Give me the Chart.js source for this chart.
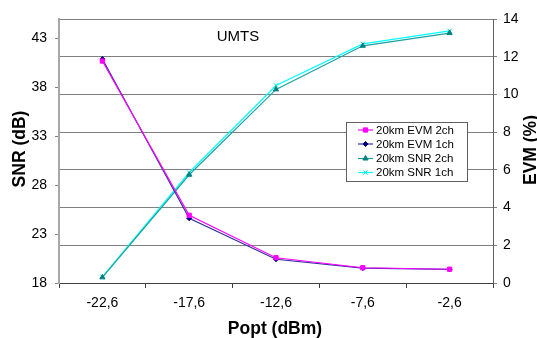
<!DOCTYPE html>
<html>
<head>
<meta charset="utf-8">
<script src="https://cdn.jsdelivr.net/npm/chart.js@4/dist/chart.umd.min.js"></script>
<style>
html,body{margin:0;padding:0;background:#fff;}
#wrap{width:537px;height:338px;}
</style>
</head>
<body>
<div id="wrap"><canvas id="c" width="537" height="338"></canvas></div>
<script>
const categories = ["-22,6", "-17,6", "-12,6", "-7,6", "-2,6"];
const evm2ch = [11.77, 3.59, 1.34, 0.81, 0.73];
const evm1ch = [11.88, 3.43, 1.26, 0.79, 0.72];
const snr2ch = [18.58, 29.07, 37.8, 42.26, 43.56];
const snr1ch = [18.62, 29.3, 38.2, 42.45, 43.78];
const snrTicks = [18, 23, 28, 33, 38, 43];
const evmTicks = [0, 2, 4, 6, 8, 10, 12, 14];
const seriesNames = ["20km EVM 2ch", "20km EVM 1ch", "20km SNR 2ch", "20km SNR 1ch"];
const chartTitle = "UMTS";
const xTitle = "Popt (dBm)";
const yTitle = "SNR (dB)";
const y1Title = "EVM (%)";

const FONT = "Arial, 'Liberation Sans', sans-serif";

const styles = [
  {color: "#FF00FF", line: "#FF00FF", point: "rect", r: 3},
  {color: "#000080", line: "#3030A0", point: "rectRot", r: 2.5},
  {color: "#008080", line: "#20A0A0", point: "triangle", r: 3},
  {color: "#00E0E0", line: "#00FFFF", point: "crossRot", r: 3}
];

const dataSets = [
  {label: seriesNames[0], data: evm2ch, yAxisID: "y1"},
  {label: seriesNames[1], data: evm1ch, yAxisID: "y1"},
  {label: seriesNames[2], data: snr2ch, yAxisID: "y"},
  {label: seriesNames[3], data: snr1ch, yAxisID: "y"}
].map((d, i) => Object.assign(d, {
  borderColor: styles[i].line,
  backgroundColor: styles[i].color,
  pointBorderColor: styles[i].color,
  pointBackgroundColor: styles[i].color,
  pointStyle: styles[i].point,
  pointRadius: styles[i].r,
  pointBorderWidth: 1,
  borderWidth: 1.2,
  tension: 0,
  fill: false
}));

const overlay = {
  id: "overlay",
  afterDraw(chart) {
    const ctx = chart.ctx;
    ctx.save();
    ctx.fillStyle = "#000";
    ctx.font = "15px " + FONT;
    ctx.textAlign = "center";
    ctx.textBaseline = "alphabetic";
    ctx.fillText(chartTitle, 238, 41);
    ctx.font = "bold 17.5px " + FONT;
    ctx.fillText(xTitle, 275, 334);
    ctx.save();
    ctx.translate(25, 149);
    ctx.rotate(-Math.PI / 2);
    ctx.fillText(yTitle, 0, 0);
    ctx.restore();
    ctx.save();
    ctx.translate(536, 150);
    ctx.rotate(-Math.PI / 2);
    ctx.fillText(y1Title, 0, 0);
    ctx.restore();
    const bx = 346, by = 122, bw = 121, bh = 59;
    ctx.fillStyle = "#fff";
    ctx.fillRect(bx, by, bw, bh);
    ctx.strokeStyle = "#606060";
    ctx.lineWidth = 1;
    ctx.strokeRect(bx + 0.5, by + 0.5, bw, bh);
    const rows = [130, 144, 158.5, 172.5];
    ctx.font = "11.5px " + FONT;
    ctx.textAlign = "left";
    ctx.textBaseline = "middle";
    rows.forEach((ry, i) => {
      ctx.strokeStyle = styles[i].line;
      ctx.lineWidth = 1.2;
      ctx.beginPath();
      ctx.moveTo(358, ry);
      ctx.lineTo(373, ry);
      ctx.stroke();
      ctx.fillStyle = styles[i].color;
      ctx.strokeStyle = styles[i].color;
      ctx.lineWidth = 1;
      Chart.helpers.drawPoint(ctx, {pointStyle: styles[i].point, radius: styles[i].r, rotation: 0, borderWidth: 1}, 365.5, ry);
      ctx.fillStyle = "#000";
      ctx.fillText(seriesNames[i], 376, ry + 0.5);
    });
    ctx.restore();
  }
};

new Chart(document.getElementById("c"), {
  type: "line",
  data: {labels: categories, datasets: dataSets},
  plugins: [overlay],
  options: {
    responsive: false,
    animation: false,
    devicePixelRatio: 1,
    layout: {padding: {top: 19, left: 0, right: 0, bottom: 0}},
    plugins: {legend: {display: false}, title: {display: false}, tooltip: {enabled: false}},
    scales: {
      x: {
        type: "category",
        offset: true,
        afterFit(s) { s.height = 55; },
        grid: {offset: true, drawOnChartArea: false, drawTicks: true, tickLength: 5, color: "#404040"},
        border: {color: "#404040", width: 1},
        ticks: {color: "#000", font: {family: FONT, size: 14}, padding: 7, maxRotation: 0}
      },
      y: {
        position: "left",
        min: 18, max: 45,
        afterFit(s) { s.width = 59; },
        afterBuildTicks(s) { s.ticks = snrTicks.map(v => ({value: v})); },
        grid: {drawOnChartArea: false, drawTicks: true, tickLength: 4, color: "#808080"},
        border: {color: "#a8a8a8", width: 2},
        ticks: {color: "#000", font: {family: FONT, size: 14}, padding: 8}
      },
      y1: {
        position: "right",
        min: 0, max: 14,
        afterFit(s) { s.width = 44; },
        afterBuildTicks(s) { s.ticks = evmTicks.map(v => ({value: v})); },
        grid: {drawOnChartArea: true, drawTicks: true, tickLength: 4, color: "#808080"},
        border: {color: "#606060", width: 1},
        ticks: {color: "#000", font: {family: FONT, size: 14}, padding: 6}
      }
    }
  }
});
</script>
</body>
</html>
